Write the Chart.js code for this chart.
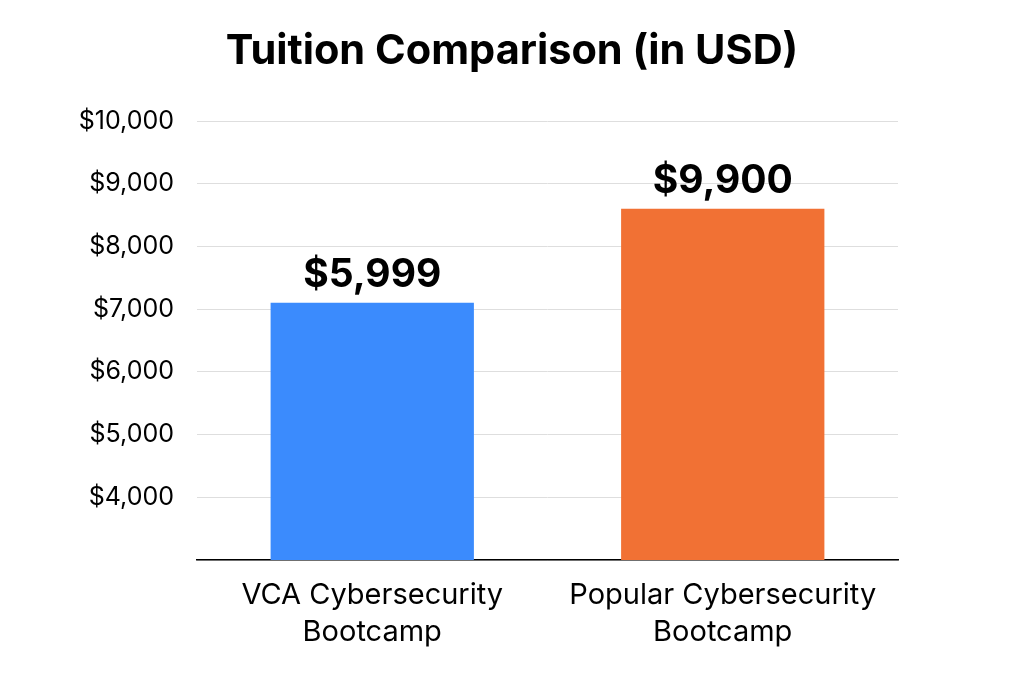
<!DOCTYPE html>
<html>
<head>
<meta charset="utf-8">
<script src="https://cdn.jsdelivr.net/npm/chart.js@4"></script>
<style>
    html, body { margin: 0; padding: 0; background: #fff; }
    #wrap { width: 1024px; height: 683px; }
</style>
</head>
<body>
<div id="wrap"><canvas id="tuitionChart"></canvas></div>
<script>
const chartTitle = 'Tuition Comparison (in USD)';
const categories = [['VCA Cybersecurity', 'Bootcamp'], ['Popular Cybersecurity', 'Bootcamp']];
// bar heights as drawn in the picture (they do not match the printed labels)
const barValues = [7100, 8600];
const valueLabels = ['$5,999', '$9,900'];
const barColors = ['rgb(59, 139, 253)', 'rgb(241, 113, 52)'];

Chart.defaults.font.family = 'Inter';
Chart.defaults.color = '#000';

// title centred on the whole canvas, not on the plot
const titlePlugin = {
    id: 'pageTitle',
    afterDraw(chart) {
        const ctx = chart.ctx;
        ctx.save();
        ctx.font = 'bold 41.5px Inter';
        ctx.fillStyle = '#000';
        ctx.textAlign = 'center';
        ctx.textBaseline = 'middle';
        ctx.fillText(chartTitle, chart.width / 2, 52);
        ctx.restore();
    }
};

const valueLabelPlugin = {
    id: 'valueLabels',
    afterDatasetsDraw(chart) {
        const ctx = chart.ctx;
        const meta = chart.getDatasetMeta(0);
        ctx.save();
        ctx.font = 'bold 39px Inter';
        ctx.fillStyle = '#000';
        ctx.textAlign = 'center';
        ctx.textBaseline = 'bottom';
        meta.data.forEach((bar, i) => {
            ctx.fillText(valueLabels[i], bar.x, bar.y - 8);
        });
        ctx.restore();
    }
};

new Chart(
    document.getElementById('tuitionChart'),
    {
        type: 'bar',
        data: {
            labels: categories,
            datasets: [
                {
                    data: barValues,
                    backgroundColor: barColors,
                    barPercentage: 0.58,
                    categoryPercentage: 1
                }
            ]
        },
        options: {
            responsive: true,
            maintainAspectRatio: false,
            animation: false,
            layout: {
                padding: { left: 0, right: 126, top: 121, bottom: 0 }
            },
            plugins: {
                legend: { display: false },
                tooltip: { enabled: false },
                title: { display: false }
            },
            scales: {
                x: {
                    grid: { display: false, drawTicks: false },
                    border: { color: '#000', width: 1.5 },
                    ticks: {
                        font: { size: 29, lineHeight: 1.3 },
                        padding: 16,
                        maxRotation: 0,
                        autoSkip: false
                    },
                    afterFit(scale) { scale.height = 123; }
                },
                y: {
                    min: 3000,
                    max: 10000,
                    grid: { color: '#dedede', lineWidth: 1, drawTicks: false },
                    border: { display: false },
                    ticks: {
                        stepSize: 1000,
                        font: { size: 25 },
                        padding: 23,
                        callback: value => value === 3000 ? '' : '$' + value.toLocaleString('en-US')
                    },
                    afterFit(scale) { scale.width = 197; }
                }
            }
        },
        plugins: [valueLabelPlugin, titlePlugin]
    }
);
</script>
</body>
</html>
